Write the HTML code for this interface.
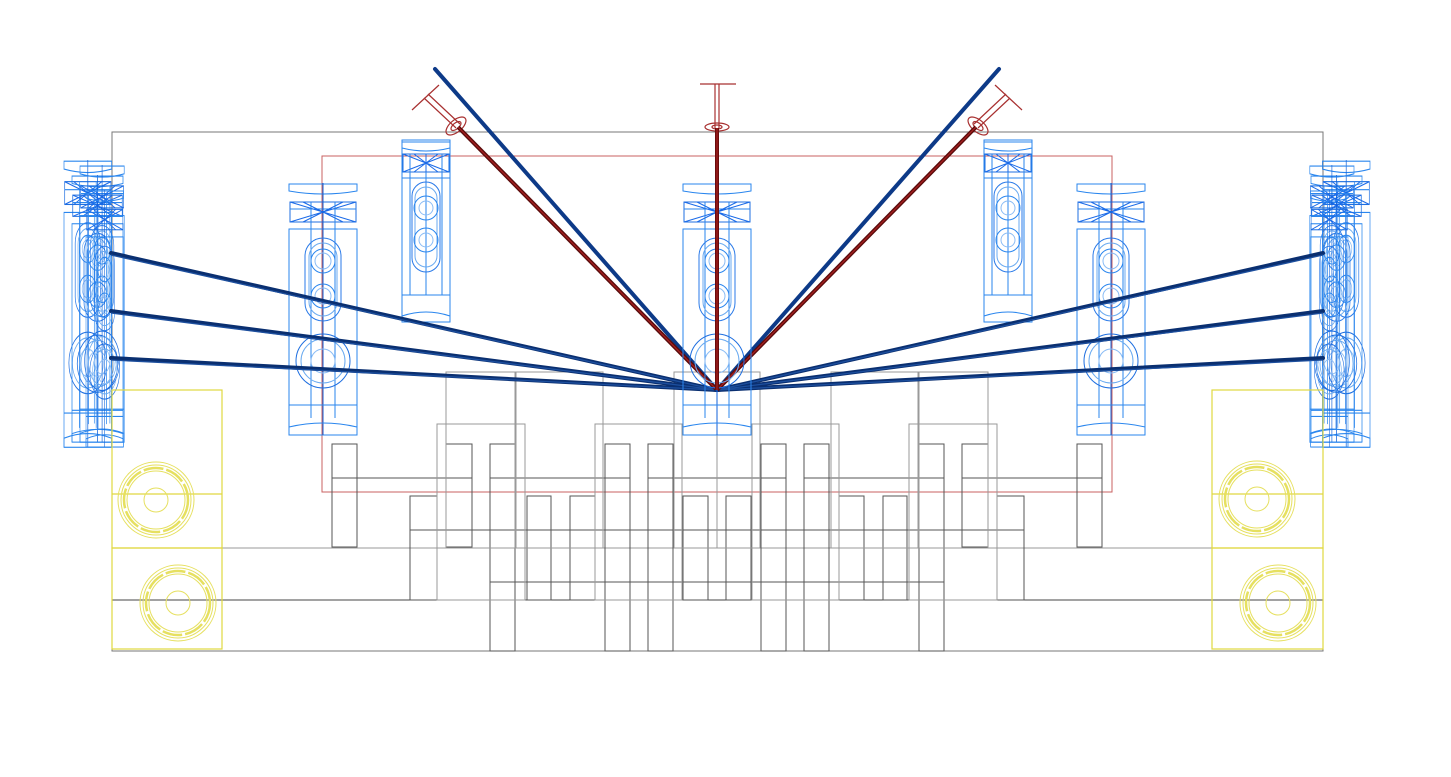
<!DOCTYPE html>
<html><head><meta charset="utf-8"><style>html,body{margin:0;padding:0;background:#fff}svg{display:block}</style></head><body>
<svg width="1451" height="777" viewBox="0 0 1451 777" xmlns="http://www.w3.org/2000/svg">
<defs>
<g id="spk" fill="none" stroke="#2a86ee" stroke-width="1">
<path d="M0,1 L68,1 L68,8 Q34,14 0,8 Z"/>
<rect x="1" y="19" width="66" height="20" stroke="#1f6fe0"/>
<line x1="1" y1="26" x2="67" y2="26"/>
<path d="M1,19 L67,39 M1,39 L67,19 M34,19 L34,39 M14,19 L54,39 M14,39 L54,19" stroke="#1a6ae8"/>
<rect x="0" y="46" width="68" height="206"/>
<line x1="22" y1="19" x2="22" y2="235"/><line x1="46" y1="19" x2="46" y2="235"/>
<line x1="34" y1="0" x2="34" y2="252" stroke="#1060d8"/>
<rect x="16" y="55" width="36" height="83" rx="18" stroke="#2a7ae8"/>
<rect x="20" y="60" width="28" height="73" rx="14" stroke="#6aaaf0"/>
<circle cx="34" cy="78" r="12"/><circle cx="34" cy="78" r="8" stroke="#8abcf5"/>
<circle cx="34" cy="113" r="12"/><circle cx="34" cy="113" r="8" stroke="#8abcf5"/>
<circle cx="34" cy="178" r="27" stroke="#1f6fe0"/><circle cx="34" cy="178" r="22" stroke="#6aaaf0"/><circle cx="34" cy="178" r="12" stroke="#8abcf5"/>
<line x1="0" y1="222" x2="68" y2="222"/>
<path d="M0,252 L0,244 Q34,236 68,244 L68,252"/>
</g>
<g id="tspk" fill="none" stroke="#2a86ee" stroke-width="1">
<rect x="0" y="0" width="48" height="182"/>
<path d="M0,2 L48,2 L48,8 Q24,14 0,8 Z"/>
<rect x="1" y="14" width="46" height="18" stroke="#1f6fe0"/>
<path d="M1,14 L47,32 M1,32 L47,14 M24,14 L24,32 M12,14 L36,32 M12,32 L36,14" stroke="#1a6ae8"/>
<line x1="0" y1="38" x2="48" y2="38"/>
<line x1="8" y1="14" x2="8" y2="155"/><line x1="40" y1="14" x2="40" y2="155"/><line x1="24" y1="32" x2="24" y2="155"/>
<rect x="10" y="42" width="28" height="90" rx="14" stroke="#2a7ae8"/>
<rect x="13" y="47" width="22" height="80" rx="11" stroke="#6aaaf0"/>
<circle cx="24" cy="68" r="12"/><circle cx="24" cy="68" r="7" stroke="#8abcf5"/>
<circle cx="24" cy="100" r="12"/><circle cx="24" cy="100" r="7" stroke="#8abcf5"/>
<line x1="0" y1="155" x2="48" y2="155"/>
<path d="M0,182 L0,176 Q24,168 48,176 L48,182"/>
</g>
<g id="half">
<g transform="translate(64,160) scale(0.7,1.14)"><use href="#spk"/></g>
<g transform="translate(72,175) scale(0.75,1.06)"><use href="#spk"/></g>
<g transform="translate(80,165) scale(0.65,1.1)"><use href="#spk"/></g>
<g transform="translate(86,190) scale(0.55,1.02)"><use href="#spk"/></g>
<use href="#spk" x="289" y="183"/>
<use href="#tspk" x="402" y="140"/>
<g stroke="#a83030" fill="none" stroke-width="1.2">
<line x1="412" y1="110" x2="439" y2="85"/>
<line x1="424" y1="98" x2="456" y2="128"/><line x1="428" y1="94" x2="460" y2="124"/>
<ellipse cx="456" cy="126" rx="12" ry="6" transform="rotate(-40 456 126)"/>
<ellipse cx="456" cy="126" rx="6" ry="3" transform="rotate(-40 456 126)"/>
</g>
<g fill="none" stroke="#555" stroke-width="1">
<rect x="332" y="444" width="25" height="103"/>
<rect x="446" y="444" width="26" height="103"/>
<rect x="490" y="444" width="25" height="207"/>
<rect x="605" y="444" width="25" height="207"/>
<rect x="648" y="444" width="25" height="207"/>
<rect x="410" y="496" width="27" height="104"/>
<rect x="527" y="496" width="24" height="104"/>
<rect x="570" y="496" width="25" height="104"/>
<rect x="683" y="496" width="25" height="104"/>
<line x1="332" y1="478" x2="472" y2="478"/>
<line x1="490" y1="478" x2="630" y2="478"/>
<line x1="648" y1="478" x2="717" y2="478"/>
<line x1="410" y1="530" x2="717" y2="530"/>
<line x1="490" y1="582" x2="717" y2="582"/>
</g>
<g fill="none" stroke="#999" stroke-width="1">
<rect x="446" y="372" width="69" height="176"/>
<rect x="516" y="372" width="87" height="176"/>
<rect x="437" y="424" width="88" height="176"/>
<rect x="595" y="424" width="87" height="176"/>
<rect x="674" y="372" width="43" height="176"/>
</g>
<g stroke="#0a2f70" stroke-width="4" stroke-linecap="round">
<line x1="111" y1="253" x2="717" y2="390"/>
<line x1="111" y1="311" x2="717" y2="390"/>
<line x1="111" y1="358" x2="717" y2="390"/>
</g>
<g stroke="#1d4f9e" stroke-width="1.3">
<line x1="111" y1="255" x2="717" y2="390"/>
<line x1="111" y1="313" x2="717" y2="390"/>
<line x1="111" y1="360" x2="717" y2="390"/>
</g>
<line x1="435" y1="69" x2="717" y2="390" stroke="#0d3a88" stroke-width="4" stroke-linecap="round"/>
<line x1="458" y1="127" x2="717" y2="390" stroke="#5a0c0c" stroke-width="4"/>
<line x1="458" y1="127" x2="717" y2="390" stroke="#a82020" stroke-width="1.2"/>
</g>
<g id="yc" fill="none" stroke="#e6e060" stroke-width="1">
<circle r="38"/><circle r="35"/><circle r="32" stroke-width="2.5" stroke-dasharray="20 3"/><circle r="29"/><circle r="12"/>
</g>
</defs>
<rect x="112" y="132" width="1211" height="519" fill="none" stroke="#777" stroke-width="1"/>
<rect x="322" y="156" width="790" height="336" fill="none" stroke="#c96060" stroke-width="1"/>
<line x1="112" y1="548" x2="1323" y2="548" stroke="#999"/>
<line x1="112" y1="600" x2="1323" y2="600" stroke="#444"/>
<use href="#half"/>
<use href="#half" transform="translate(1434,0) scale(-1,1)"/>
<use href="#spk" x="683" y="183"/>
<g stroke="#a83030" fill="none" stroke-width="1.2">
<line x1="700" y1="84" x2="736" y2="84"/>
<line x1="715" y1="84" x2="715" y2="128"/><line x1="719" y1="84" x2="719" y2="128"/>
<ellipse cx="717" cy="127" rx="12" ry="4"/><ellipse cx="717" cy="127" rx="5" ry="2"/>
</g>
<line x1="717" y1="128" x2="717" y2="390" stroke="#6a0c0c" stroke-width="4"/>
<line x1="717" y1="128" x2="717" y2="390" stroke="#a82020" stroke-width="1.2"/>
<g fill="none" stroke="#e0d840" stroke-width="1.2">
<rect x="112" y="390" width="110" height="158"/><line x1="112" y1="494" x2="222" y2="494"/>
<rect x="112" y="548" width="110" height="101"/>
<rect x="1212" y="390" width="111" height="158"/><line x1="1212" y1="494" x2="1323" y2="494"/>
<rect x="1212" y="548" width="111" height="101"/>
</g>
<use href="#yc" x="156" y="500"/>
<use href="#yc" x="178" y="603"/>
<use href="#yc" x="1257" y="499"/>
<use href="#yc" x="1278" y="603"/>
</svg>
</body></html>
